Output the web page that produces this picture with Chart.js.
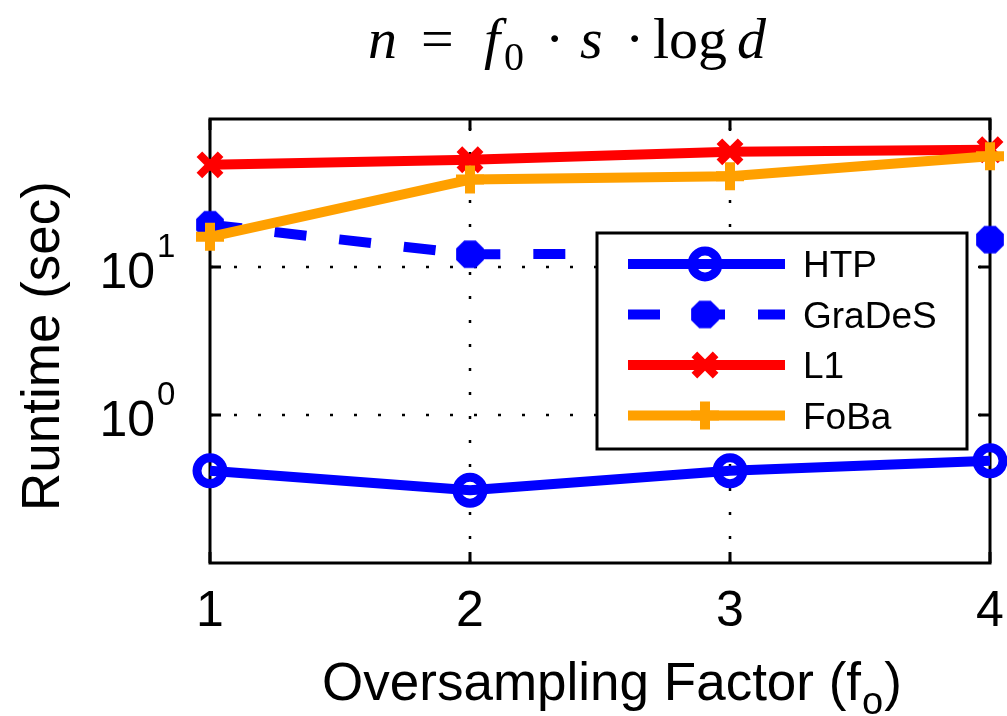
<!DOCTYPE html>
<html>
<head>
<meta charset="utf-8">
<script src="https://cdn.jsdelivr.net/npm/chart.js@4.4.1/dist/chart.umd.min.js"></script>
<style>
  html, body { margin: 0; padding: 0; background: #fff; }
  canvas { display: block; }
</style>
</head>
<body>
<canvas id="runtimeChart" width="1007" height="716"></canvas>
<script>
// oversampling factor on x, runtime in seconds (log scale) on y
var factors = [1, 2, 3, 4];
var htpTimes = [0.42, 0.31, 0.42, 0.49];
var gradesTimes = [19.3, 12.2, 12.3, 15.3];
var l1Times = [49, 53, 60, 62];
var fobaTimes = [16.0, 39, 41, 56];

var xTickLabels = ['1', '2', '3', '4'];
var yTickValues = [1, 10];
var yTickExponents = ['0', '1'];

var sansFont = '"Liberation Sans", Arial, sans-serif';
var serifFont = '"Liberation Serif", "Times New Roman", serif';

// filled octagon marker (MATLAB 'o' filled look for GraDeS)
function octagonMarker(size, color) {
  var c = document.createElement('canvas');
  c.width = size; c.height = size;
  var g = c.getContext('2d');
  var r = size / 2;
  g.fillStyle = color;
  g.beginPath();
  for (var k = 0; k < 8; k++) {
    var a = Math.PI / 8 + k * Math.PI / 4;
    var px = r + r * Math.cos(a), py = r + r * Math.sin(a);
    if (k === 0) g.moveTo(px, py); else g.lineTo(px, py);
  }
  g.closePath();
  g.fill();
  return c;
}

function pts(vals) {
  return factors.map(function (f, i) { return { x: f, y: vals[i] }; });
}

var octagon = octagonMarker(30, '#0000FF');

var chartPlugin = {
  id: 'matlabLook',
  beforeDraw: function (chart) {
    var ctx = chart.ctx;
    ctx.save();
    ctx.fillStyle = '#fff';
    ctx.fillRect(0, 0, chart.width, chart.height);
    ctx.restore();
  },
  beforeDatasetsDraw: function (chart) {
    var ctx = chart.ctx, a = chart.chartArea;
    var xs = chart.scales.x, ys = chart.scales.y;
    ctx.save();
    // dotted grid
    ctx.strokeStyle = '#000';
    ctx.lineWidth = 2.5;
    ctx.setLineDash([3, 21]);
    factors.forEach(function (f) {
      if (f === factors[0] || f === factors[factors.length - 1]) return;
      var px = Math.round(xs.getPixelForValue(f));
      ctx.beginPath(); ctx.moveTo(px, a.bottom); ctx.lineTo(px, a.top); ctx.stroke();
    });
    yTickValues.forEach(function (v) {
      var py = Math.round(ys.getPixelForValue(v));
      ctx.beginPath(); ctx.moveTo(a.left, py); ctx.lineTo(a.right, py); ctx.stroke();
    });
    ctx.setLineDash([]);
    // inward ticks
    ctx.lineWidth = 3;
    factors.forEach(function (f) {
      var px = Math.round(xs.getPixelForValue(f));
      ctx.beginPath();
      ctx.moveTo(px, a.bottom); ctx.lineTo(px, a.bottom - 11);
      ctx.moveTo(px, a.top); ctx.lineTo(px, a.top + 11);
      ctx.stroke();
    });
    yTickValues.forEach(function (v) {
      var py = Math.round(ys.getPixelForValue(v));
      ctx.beginPath();
      ctx.moveTo(a.left, py); ctx.lineTo(a.left + 11, py);
      ctx.moveTo(a.right, py); ctx.lineTo(a.right - 11, py);
      ctx.stroke();
    });
    ctx.strokeRect(a.left, a.top, a.right - a.left, a.bottom - a.top);
    ctx.restore();
  },
  afterDatasetsDraw: function (chart) {
    // MATLAB style legend box: line + marker + name
    var ctx = chart.ctx;
    ctx.save();
    ctx.fillStyle = '#fff';
    ctx.fillRect(597, 233, 370, 216);
    ctx.strokeStyle = '#000';
    ctx.lineWidth = 3;
    ctx.strokeRect(597, 233, 370, 216);
    chart.data.datasets.forEach(function (ds, i) {
      var y = 264 + i * 50.5;
      ctx.save();
      ctx.beginPath();
      ctx.rect(628, y - 10, 157, 20);
      ctx.clip();
      ctx.strokeStyle = ds.borderColor;
      ctx.lineWidth = ds.borderWidth;
      ctx.setLineDash(ds.borderDash || []);
      ctx.beginPath(); ctx.moveTo(628, y); ctx.lineTo(800, y); ctx.stroke();
      ctx.restore();
      ctx.save();
      ctx.setLineDash([]);
      ctx.strokeStyle = ds.pointBorderColor;
      ctx.fillStyle = ds.pointBackgroundColor;
      ctx.lineWidth = ds.pointBorderWidth;
      Chart.helpers.drawPoint(ctx, {
        pointStyle: ds.pointStyle, radius: ds.pointRadius,
        borderWidth: ds.pointBorderWidth, rotation: 0
      }, 705, y);
      ctx.restore();
      ctx.fillStyle = '#000';
      ctx.font = '37px ' + sansFont;
      ctx.textAlign = 'left';
      ctx.textBaseline = 'alphabetic';
      ctx.fillText(ds.label, 803, y + 13);
    });
    ctx.restore();
  },
  afterDraw: function (chart) {
    var ctx = chart.ctx;
    var xs = chart.scales.x, ys = chart.scales.y;
    ctx.save();
    ctx.fillStyle = '#000';
    ctx.textBaseline = 'alphabetic';
    // x tick labels
    ctx.font = '50px ' + sansFont;
    ctx.textAlign = 'center';
    factors.forEach(function (f, i) {
      ctx.fillText(xTickLabels[i], xs.getPixelForValue(f), 626);
    });
    // y tick labels 10^k
    yTickValues.forEach(function (v, i) {
      var py = ys.getPixelForValue(v);
      ctx.font = '50px ' + sansFont;
      ctx.textAlign = 'right';
      ctx.fillText('10', 155, py + 21);
      ctx.font = '33px ' + sansFont;
      ctx.textAlign = 'left';
      ctx.fillText(yTickExponents[i], 157, py - 10);
    });
    // y axis title
    ctx.save();
    ctx.translate(59, 346);
    ctx.rotate(-Math.PI / 2);
    ctx.font = '53px ' + sansFont;
    ctx.textAlign = 'center';
    ctx.fillText('Runtime (sec)', 0, 0);
    ctx.restore();
    // x axis title with subscript
    ctx.textAlign = 'left';
    ctx.font = '53px ' + sansFont;
    var main = 'Oversampling Factor (f';
    var w1 = ctx.measureText(main).width;
    var w3 = ctx.measureText(')').width;
    ctx.font = '38px ' + sansFont;
    var w2 = ctx.measureText('o').width;
    var x0 = 612 - (w1 + w2 + w3 + 2) / 2;
    ctx.font = '53px ' + sansFont;
    ctx.fillText(main, x0, 700);
    ctx.font = '38px ' + sansFont;
    ctx.fillText('o', x0 + w1 + 1, 714);
    ctx.font = '53px ' + sansFont;
    ctx.fillText(')', x0 + w1 + w2 + 2, 700);
    // formula title
    var it = 'italic 58px ' + serifFont, up = '58px ' + serifFont, sub = '40px ' + serifFont;
    var pieces = [
      ['n', it, 368, 58], ['=', up, 421, 58], ['f', it, 484, 58], ['0', sub, 504, 70],
      ['\u00B7', up, 545, 58], ['s', it, 580, 58], ['\u00B7', up, 625, 58],
      ['log', up, 653, 58], ['d', it, 737, 58]
    ];
    pieces.forEach(function (p) {
      ctx.font = p[1];
      ctx.fillText(p[0], p[2], p[3]);
    });
    ctx.restore();
  }
};

var ctxRuntime = document.getElementById('runtimeChart').getContext('2d');
var runtimeChart = new Chart(ctxRuntime, {
  type: 'line',
  data: {
    datasets: [{
      label: 'HTP',
      data: pts(htpTimes),
      borderColor: '#0000FF',
      borderWidth: 10,
      pointStyle: 'circle',
      pointRadius: 13,
      pointBorderWidth: 9,
      pointBorderColor: '#0000FF',
      pointBackgroundColor: 'rgba(0,0,0,0)',
      order: 4
    }, {
      label: 'GraDeS',
      data: pts(gradesTimes),
      borderColor: '#0000FF',
      borderWidth: 10,
      borderDash: [32, 33],
      pointStyle: octagon,
      pointRadius: 14,
      pointBorderWidth: 0,
      pointBorderColor: '#0000FF',
      pointBackgroundColor: '#0000FF',
      order: 3
    }, {
      label: 'L1',
      data: pts(l1Times),
      borderColor: '#FF0000',
      borderWidth: 10,
      pointStyle: 'crossRot',
      pointRadius: 15,
      pointBorderWidth: 8,
      pointBorderColor: '#FF0000',
      pointBackgroundColor: '#FF0000',
      order: 2
    }, {
      label: 'FoBa',
      data: pts(fobaTimes),
      borderColor: '#FFA000',
      borderWidth: 10,
      pointStyle: 'cross',
      pointRadius: 14,
      pointBorderWidth: 10,
      pointBorderColor: '#FFA000',
      pointBackgroundColor: '#FFA000',
      order: 1
    }]
  },
  options: {
    responsive: false,
    animation: false,
    events: [],
    layout: { autoPadding: false, padding: { left: 210, right: 17, top: 119, bottom: 153 } },
    elements: { line: { tension: 0, borderJoinStyle: 'round' } },
    datasets: { line: { clip: false } },
    plugins: { legend: { display: false }, tooltip: { enabled: false } },
    scales: {
      x: { type: 'linear', min: 1, max: 4, display: false },
      y: { type: 'logarithmic', min: 0.1, max: 100, display: false }
    }
  },
  plugins: [chartPlugin]
});
</script>
</body>
</html>
